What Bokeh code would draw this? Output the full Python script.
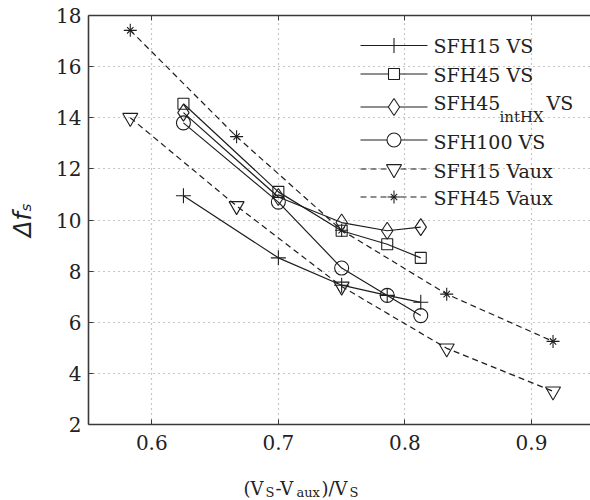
from bokeh.plotting import figure
from bokeh.layouts import column
from bokeh.models import LinearAxis, FixedTicker, Range1d
from bokeh.core.properties import value
from bokeh.embed import file_html
from bokeh.resources import INLINE

# Relative voltage drop (V_S - V_aux) / V_S for the two control strategies
x_vs = [0.625, 0.7, 0.75, 0.786, 0.8125]
x_vaux = [0.583, 0.667, 0.75, 0.833, 0.917]

# Delta f_s per building / configuration
sfh15_vs = [10.95, 8.52, 7.45, 7.05, 6.78]
sfh45_vs = [14.55, 11.1, 9.58, 9.05, 8.52]
sfh45_inthx_vs = [14.2, 10.9, 9.9, 9.58, 9.72]
sfh100_vs = [13.8, 10.7, 8.12, 7.05, 6.26]
sfh15_vaux = [14.0, 10.55, 7.4, 4.98, 3.3]
sfh45_vaux = [17.42, 13.26, 9.6, 7.1, 5.25]

x_ticks = [0.6, 0.7, 0.8, 0.9]
y_ticks = [2, 4, 6, 8, 10, 12, 14, 16, 18]

X0, X1 = 0.55, 0.9466
Y0, Y1 = 2, 18

W, H = 590, 500          # whole page
BH = 30                  # strip holding the x title
MH = H - BH              # main chart height
FL, FR, FT, FB = 88, 590, 15, 424   # plot frame in page pixels

INK = "#1e1e1e"
TXT = "#222222"
SERIF = "DejaVu Serif"


def to_data(xp, yp):
    """Page pixels -> data coordinates of the main frame."""
    return (X0 + (xp - FL) / (FR - FL) * (X1 - X0),
            Y1 - (yp - FT) / (FB - FT) * (Y1 - Y0))


p = figure(width=W, height=MH, output_backend="svg", toolbar_location=None,
           title=None,
           x_range=Range1d(X0, X1), y_range=Range1d(Y0, Y1),
           min_border_left=FL, min_border_right=W - FR,
           min_border_top=FT, min_border_bottom=MH - FB)
p.outline_line_color = None


def style_axis(ax, ticks, label_size="20px"):
    ax.ticker = FixedTicker(ticks=ticks)
    ax.axis_line_color = "#3a3a3a"
    ax.axis_line_width = 1.6
    ax.major_tick_line_color = "#3a3a3a"
    ax.major_tick_in = 5
    ax.major_tick_out = 0
    ax.minor_tick_line_color = None
    ax.major_label_text_font = SERIF
    ax.major_label_text_font_size = label_size
    ax.major_label_text_color = TXT


style_axis(p.xaxis[0], x_ticks)
style_axis(p.yaxis[0], y_ticks)
p.xaxis[0].major_label_standoff = 10
p.yaxis[0].major_label_standoff = 7

# y title
ya = p.yaxis[0]
ya.axis_label = "Δfₛ"
ya.axis_label_text_font = "DejaVu Sans"
ya.axis_label_text_font_style = "italic"
ya.axis_label_text_font_size = "24px"
ya.axis_label_text_color = TXT
ya.axis_label_standoff = 16

# top frame edge with inward ticks, no numbers
top = LinearAxis()
style_axis(top, x_ticks, label_size="1px")
top.major_label_overrides = {t: "" for t in x_ticks}
top.major_label_standoff = 0
p.add_layout(top, "above")

p.xgrid.ticker = FixedTicker(ticks=x_ticks)
p.ygrid.ticker = FixedTicker(ticks=y_ticks)
for g in (p.xgrid[0], p.ygrid[0]):
    g.grid_line_color = "#8c8c8c"
    g.grid_line_dash = "1 4"
    g.grid_line_width = 1.2

# (label, x, y, markers as (shape, size), dash)
STAR = [("cross", 13), ("x", 9)]
series = [
    ("SFH15 VS", x_vs, sfh15_vs, [("cross", 15)], "solid"),
    ("SFH45 VS", x_vs, sfh45_vs, [("square", 11)], "solid"),
    ("SFH45intHX VS", x_vs, sfh45_inthx_vs, [("diamond", 17)], "solid"),
    ("SFH100 VS", x_vs, sfh100_vs, [("circle", 14)], "solid"),
    ("SFH15 Vaux", x_vaux, sfh15_vaux, [("inverted_triangle", 15)], "6 4"),
    ("SFH45 Vaux", x_vaux, sfh45_vaux, STAR, "6 4"),
]

for name, xs, ys, markers, dash in series:
    p.line(xs, ys, line_color=INK, line_width=1.2, line_dash=dash)
    for marker, size in markers:
        p.scatter(xs, ys, marker=marker, size=size, fill_color=None,
                  line_color=INK, line_width=1.1)


def frame_text(xp, yp, txt, size, **kw):
    x, y = to_data(xp, yp)
    p.text([x], [y], text=[txt], text_font=value(SERIF), text_font_size=size,
           text_color=TXT, text_baseline="middle", **kw)


# legend block
row_line_y = [45, 73.5, 106.5, 139.5, 168.5, 196.5]
row_text_y = [45.5, 74, 102.5, 141, 170, 197]
for (name, xs, ys, markers, dash), ly, ty in zip(series, row_line_y, row_text_y):
    xa0, yl = to_data(360, ly)
    xa1, _ = to_data(427, ly)
    xm, _ = to_data(393.5, ly)
    p.line([xa0, xa1], [yl, yl], line_color=INK, line_width=1.2, line_dash=dash)
    for marker, size in markers:
        p.scatter([xm], [yl], marker=marker, size=size,
                  fill_color="white" if len(markers) == 1 else None,
                  line_color=INK, line_width=1.1)
    if name == "SFH45intHX VS":
        frame_text(433, ty, "SFH45", "19px")
        frame_text(499, 116.5, "intHX", "15px")
        frame_text(546, ty, "VS", "19px")
    else:
        frame_text(433, ty, name, "19px")

# x title strip: its frame lines up with the main frame (page px FL..FR)
bottom = figure(width=W, height=BH, output_backend="svg", toolbar_location=None,
                title=None, x_range=Range1d(FL, FR), y_range=Range1d(BH, 0),
                min_border=0, x_axis_type=None, y_axis_type=None)
bottom.outline_line_color = None
bottom.grid.visible = False
xlabel_parts = [
    ("(V", 243, 488, "18px"),
    ("S", 265, 492, "13px"),
    ("-V", 275, 488, "18px"),
    ("aux", 296, 492, "13px"),
    (")/V", 321, 488, "18px"),
    ("S", 349, 492, "13px"),
]
for txt, xp, yp, fs in xlabel_parts:
    bottom.text([xp], [yp - MH], text=[txt], text_font=value(SERIF),
                text_font_size=fs, text_color=TXT, text_baseline="alphabetic")

page = column(p, bottom, spacing=0)
open("out.html", "w").write(file_html(page, INLINE))
